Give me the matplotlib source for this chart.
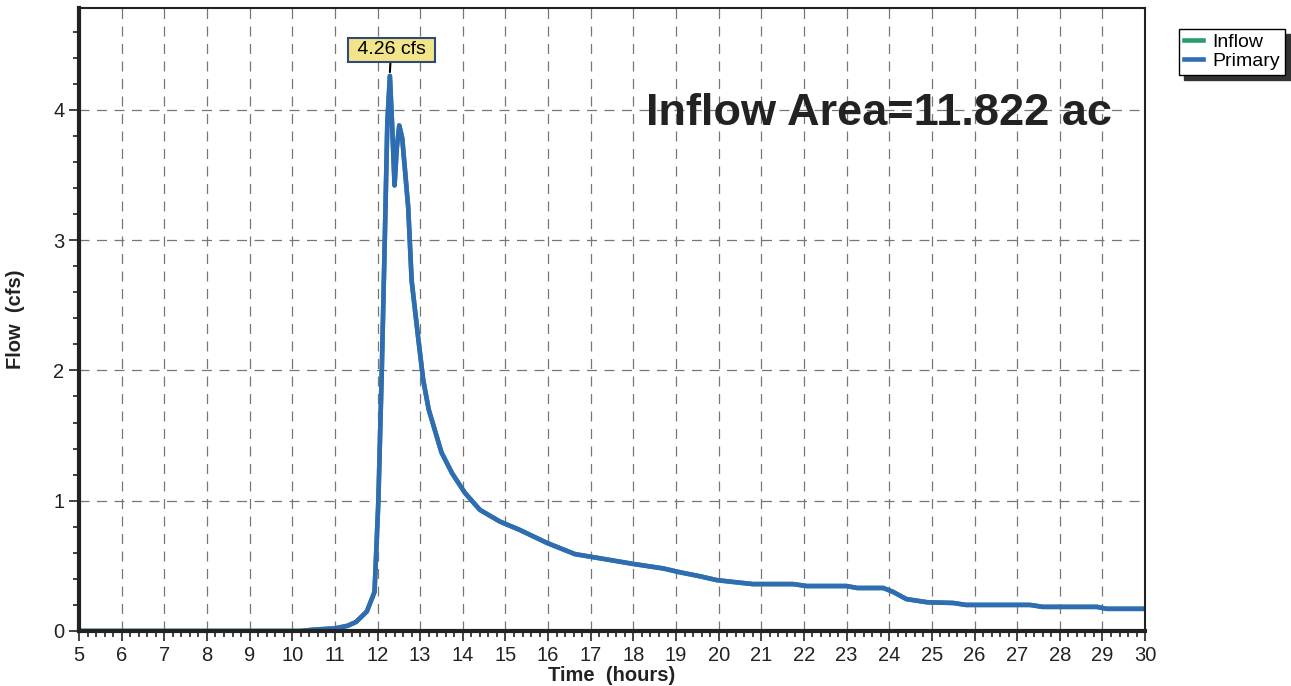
import matplotlib
matplotlib.use("Agg")
import matplotlib.pyplot as plt
from matplotlib.ticker import MultipleLocator

plt.rcParams["font.family"] = ["Liberation Sans", "DejaVu Sans"]

# hydrograph read as (hours, cfs)
time_hr = [5.0, 10.2, 10.5, 11.0, 11.3, 11.5, 11.75, 11.93, 12.02, 12.1, 12.17,
           12.23, 12.29, 12.34, 12.40, 12.45, 12.51, 12.58, 12.72, 12.8, 12.95,
           13.07, 13.2, 13.5, 13.75, 14.05, 14.4, 14.87, 15.34, 15.98, 16.63,
           17.45, 17.99, 18.7, 19.1, 19.56, 19.96, 20.8, 21.74, 22.07, 23.0,
           23.25, 23.86, 24.09, 24.4, 24.9, 25.5, 25.8, 27.3, 27.6, 28.87,
           29.1, 30.0]
flow_cfs = [0.0, 0.0, 0.01, 0.02, 0.04, 0.07, 0.15, 0.30, 1.0, 2.0, 3.0,
            3.9, 4.26, 3.9, 3.42, 3.7, 3.88, 3.78, 3.25, 2.69, 2.26,
            1.93, 1.70, 1.37, 1.21, 1.06, 0.93, 0.84, 0.775, 0.675, 0.59,
            0.545, 0.515, 0.48, 0.45, 0.42, 0.39, 0.36, 0.36, 0.345, 0.345,
            0.33, 0.33, 0.30, 0.245, 0.22, 0.215, 0.20, 0.20, 0.185, 0.185,
            0.17, 0.17]

peak_time = 12.29
peak_flow = 4.26
area_text = "Inflow Area=11.822 ac"

fig = plt.figure(figsize=(12.91, 6.86), dpi=100)
ax = fig.add_axes([0.0612, 0.0802, 0.8258, 0.9078])

ax.plot(time_hr, flow_cfs, color="#2a9d6a", lw=3.3, label="Inflow", zorder=2)
ax.plot(time_hr, flow_cfs, color="#2f6cb3", lw=3.3, label="Primary", zorder=2.1)

ax.set_xlim(5, 30)
ax.set_ylim(0, 4.78)
ax.xaxis.set_major_locator(MultipleLocator(1))
ax.xaxis.set_minor_locator(MultipleLocator(0.2))
ax.yaxis.set_major_locator(MultipleLocator(1))
ax.yaxis.set_minor_locator(MultipleLocator(0.2))
ax.tick_params(axis="both", which="major", labelsize=14.5, length=7, width=1.2,
               direction="out", colors="#222222")
ax.tick_params(axis="both", which="minor", length=4, width=1.2, direction="out",
               colors="#222222")
ax.grid(True, which="major", color="#777777", linestyle=(0, (8, 6)), linewidth=0.9)

ax.spines["left"].set_linewidth(3)
ax.spines["bottom"].set_linewidth(3)
ax.spines["top"].set_linewidth(1.5)
ax.spines["right"].set_linewidth(1.5)
for s in ax.spines.values():
    s.set_color("#222222")
    s.set_zorder(3)

ax.set_xlabel("Time  (hours)", fontsize=14.5, fontweight="bold", labelpad=1,
              color="#222222")
ax.set_ylabel("Flow  (cfs)", fontsize=14.5, fontweight="bold", labelpad=20,
              color="#222222")

ax.annotate(f" {peak_flow:.2f} cfs ", xy=(peak_time, peak_flow + 0.03),
            xytext=(peak_time + 0.03, 4.46), ha="center", va="center", fontsize=14,
            bbox=dict(boxstyle="square,pad=0.2", fc="#f2e488", ec="#2d4a7a", lw=1.5),
            arrowprops=dict(arrowstyle="-", color="black", lw=1.5, shrinkA=0, shrinkB=0))

ax.text(23.76, 3.885, area_text, ha="center", va="baseline", fontsize=32.5,
        fontweight="bold", color="#222222",
        family=["Liberation Sans Narrow", "Liberation Sans", "DejaVu Sans"])

fig.legend(loc="upper left", bbox_to_anchor=(0.913, 0.958), borderaxespad=0,
           fontsize=14, handlelength=1.0, handletextpad=0.5, labelspacing=0.05,
           borderpad=0.25, fancybox=False, edgecolor="black", framealpha=1,
           shadow={"ox": 4, "oy": -4, "color": "#333333", "alpha": 1})

fig.savefig("out.png", dpi=100)
